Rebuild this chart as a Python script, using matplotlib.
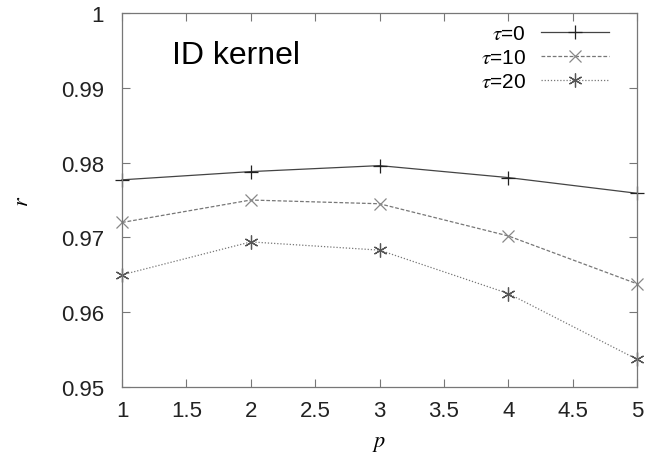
import matplotlib
matplotlib.use("Agg")
import matplotlib.pyplot as plt

plt.rcParams['font.family'] = ['Liberation Sans', 'DejaVu Sans']
plt.rcParams['mathtext.fontset'] = 'stix'

p = [1, 2, 3, 4, 5]
r_tau0 = [0.9777, 0.9788, 0.9796, 0.9780, 0.9759]
r_tau10 = [0.9720, 0.9750, 0.9745, 0.9702, 0.9638]
r_tau20 = [0.9650, 0.9694, 0.9683, 0.9625, 0.9537]
labels = [r'$\tau$=0', r'$\tau$=10', r'$\tau$=20']

x_ticks = [1, 1.5, 2, 2.5, 3, 3.5, 4, 4.5, 5]
x_tick_labels = ['1', '1.5', '2', '2.5', '3', '3.5', '4', '4.5', '5']
y_ticks = [0.95, 0.96, 0.97, 0.98, 0.99, 1.0]
y_tick_labels = ['0.95', '0.96', '0.97', '0.98', '0.99', '1']

fig = plt.figure(figsize=(6.66, 4.6), dpi=100)
ax = fig.add_axes([0.1832, 0.1565, 0.7733, 0.813])

ax.plot(p, r_tau0, color='#444444', lw=0.9, ls='-', marker='+', ms=10, mew=0.9,
        mec='#222222', label=labels[0], clip_on=False)
ax.plot(p, r_tau10, color='#777777', lw=0.9, ls=(0, (3, 1.5)), marker='x', ms=9, mew=0.9,
        mec='#888888', label=labels[1], clip_on=False)
ax.plot(p, r_tau20, color='#777777', lw=0.9, ls=(0, (1, 1.5)), marker=(6, 2, 0), ms=10, mew=0.9,
        mec='#555555', label=labels[2], clip_on=False)

ax.set_xlim(1, 5)
ax.set_ylim(0.95, 1.0)
ax.set_xticks(x_ticks)
ax.set_xticklabels(x_tick_labels)
ax.set_yticks(y_ticks)
ax.set_yticklabels(y_tick_labels)
ax.tick_params(direction='in', top=True, right=True, length=6, width=0.8,
               color='#777777', labelsize=16, labelcolor='#222222')
ax.tick_params(axis='y', pad=13)
ax.tick_params(axis='x', pad=9)
for s in ax.spines.values():
    s.set_color('#777777')
    s.set_linewidth(0.9)

ax.set_xlabel('$p$', fontsize=16, labelpad=8)
ax.set_ylabel('$r$', fontsize=16, labelpad=20)

ax.text(0.097, 0.887, 'ID kernel', transform=ax.transAxes, fontsize=23,
        ha='left', va='center', color='black')

ax.legend(loc='upper right', frameon=False, markerfirst=False, fontsize=15,
          handlelength=3.27, handletextpad=0.72, labelspacing=0.25,
          borderaxespad=0.0, bbox_to_anchor=(0.9617, 0.993))

fig.savefig('out.png', dpi=100)
